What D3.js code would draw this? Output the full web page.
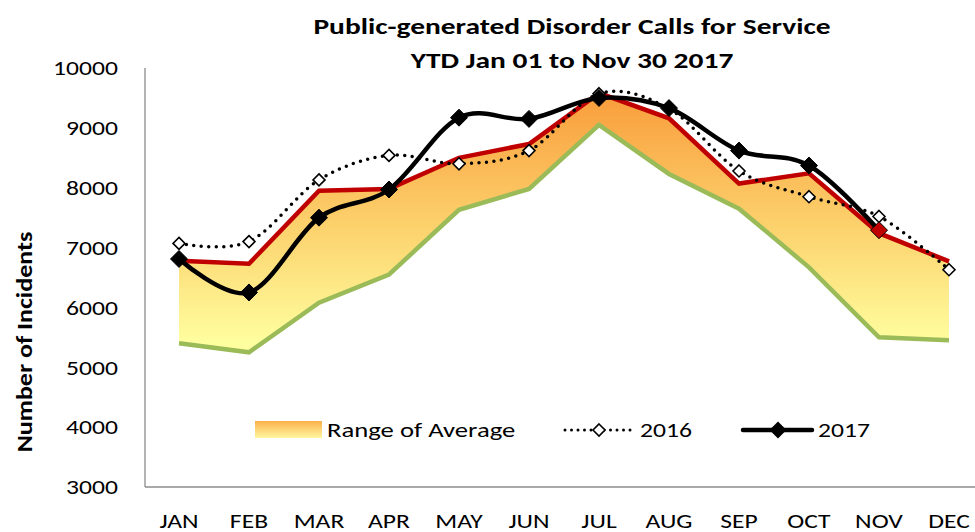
<!DOCTYPE html>
<html>
<head>
<meta charset="utf-8">
<script src="https://cdn.jsdelivr.net/npm/d3@7"></script>
<style>
  body { margin: 0; background: #fff; }
  svg { display: block; }
  text { font-family: Carlito, "Liberation Sans Narrow", "DejaVu Sans Condensed", sans-serif; fill: #000; }
</style>
</head>
<body>
<script>
// chart data
var months = ['JAN', 'FEB', 'MAR', 'APR', 'MAY', 'JUN', 'JUL', 'AUG', 'SEP', 'OCT', 'NOV', 'DEC'];
var rangeHigh = [6780, 6730, 7950, 7980, 8500, 8730, 9580, 9160, 8070, 8240, 7240, 6770];
var rangeLow = [5400, 5250, 6080, 6550, 7630, 7980, 9050, 8230, 7650, 6670, 5500, 5450];
var calls2016 = [7070, 7100, 8130, 8540, 8400, 8620, 9570, 9320, 8280, 7850, 7520, 6630];
var calls2017 = [6810, 6250, 7500, 7970, 9170, 9150, 9500, 9330, 8620, 8370, 7290];
var yTicks = [3000, 4000, 5000, 6000, 7000, 8000, 9000, 10000];

var W = 975, H = 532;

var svg = d3.select('body').append('svg')
  .attr('width', W)
  .attr('height', H);

// the reference font runs wider than Carlito, so widen glyphs a bit
var widen = function(sel, k) {
  sel.each(function() {
    var len = this.getComputedTextLength();
    d3.select(this).attr('textLength', len * k).attr('lengthAdjust', 'spacingAndGlyphs');
  });
};

var defs = svg.append('defs');

// fill of the range band, orange at the top fading to pale yellow
var grad = defs.append('linearGradient')
  .attr('id', 'rangeGrad')
  .attr('gradientUnits', 'userSpaceOnUse')
  .attr('x1', 0).attr('x2', 0)
  .attr('y1', 90).attr('y2', 345);
grad.append('stop').attr('offset', '0%').attr('stop-color', '#f99b3a');
grad.append('stop').attr('offset', '55%').attr('stop-color', '#fcd36e');
grad.append('stop').attr('offset', '100%').attr('stop-color', '#ffffa0');

var legGrad = defs.append('linearGradient')
  .attr('id', 'legGrad')
  .attr('x1', 0).attr('x2', 0).attr('y1', 0).attr('y2', 1);
legGrad.append('stop').attr('offset', '0%').attr('stop-color', '#fbb04c');
legGrad.append('stop').attr('offset', '100%').attr('stop-color', '#fff7a0');

var x = d3.scalePoint().domain(months).range([179, 949]);
var y = d3.scaleLinear().domain([3000, 10000]).range([487, 68]);

// axes
svg.append('line')
  .attr('x1', 145).attr('x2', 145)
  .attr('y1', y(10000)).attr('y2', y(3000))
  .attr('stroke', '#8c8c8c').attr('stroke-width', 1.3);
svg.append('line')
  .attr('x1', 145).attr('x2', W)
  .attr('y1', y(3000)).attr('y2', y(3000))
  .attr('stroke', '#8c8c8c').attr('stroke-width', 1.3);

svg.selectAll('.ytick').data(yTicks).enter().append('text')
  .attr('class', 'ytick')
  .attr('x', 118)
  .attr('y', function(d) { return y(d); })
  .attr('dy', '0.35em')
  .attr('text-anchor', 'end')
  .style('font-size', '21px')
  .text(function(d) { return d; })
  .call(widen, 1.22);

svg.selectAll('.xtick').data(months).enter().append('text')
  .attr('class', 'xtick')
  .attr('x', function(d) { return x(d); })
  .attr('y', 521)
  .attr('dy', '0.35em')
  .attr('text-anchor', 'middle')
  .style('font-size', '21px')
  .text(function(d) { return d; })
  .call(widen, 1.22);

// range band
var area = d3.area()
  .x(function(d, i) { return x(months[i]); })
  .y0(function(d, i) { return y(rangeLow[i]); })
  .y1(function(d) { return y(d); });

svg.append('path')
  .datum(rangeHigh)
  .attr('d', area)
  .attr('fill', 'url(#rangeGrad)');

var straight = d3.line()
  .x(function(d, i) { return x(months[i]); })
  .y(function(d) { return y(d); });

var smooth = d3.line()
  .x(function(d, i) { return x(months[i]); })
  .y(function(d) { return y(d); })
  .curve(d3.curveCatmullRom.alpha(0));

svg.append('path')
  .datum(rangeLow)
  .attr('d', straight)
  .attr('fill', 'none')
  .attr('stroke', '#9bbb59')
  .attr('stroke-width', 4.5);

svg.append('path')
  .datum(rangeHigh)
  .attr('d', straight)
  .attr('fill', 'none')
  .attr('stroke', '#c00000')
  .attr('stroke-width', 4.5);

// 2016
svg.append('path')
  .datum(calls2016)
  .attr('d', smooth)
  .attr('fill', 'none')
  .attr('stroke', '#000')
  .attr('stroke-width', 3.5)
  .attr('stroke-linecap', 'round')
  .attr('stroke-dasharray', '0,7.5');

var diamond = function(s) {
  return 'M0,' + (-s) + 'L' + s + ',0L0,' + s + 'L' + (-s) + ',0Z';
};

svg.selectAll('.m2016').data(calls2016).enter().append('path')
  .attr('class', 'm2016')
  .attr('d', diamond(6))
  .attr('transform', function(d, i) { return 'translate(' + x(months[i]) + ',' + y(d) + ')'; })
  .attr('fill', '#fff')
  .attr('stroke', '#000')
  .attr('stroke-width', 1.6);

// 2017
svg.append('path')
  .datum(calls2017)
  .attr('d', smooth)
  .attr('fill', 'none')
  .attr('stroke', '#000')
  .attr('stroke-width', 4.5);

svg.selectAll('.m2017').data(calls2017).enter().append('path')
  .attr('class', 'm2017')
  .attr('d', diamond(8.5))
  .attr('transform', function(d, i) { return 'translate(' + x(months[i]) + ',' + y(d) + ')'; })
  .attr('fill', function(d, i) { return i == 10 ? '#c00000' : '#000'; })
  .attr('stroke', '#000')
  .attr('stroke-width', 1);

// titles
svg.append('text')
  .attr('x', 572).attr('y', 26)
  .attr('dy', '0.35em')
  .attr('text-anchor', 'middle')
  .style('font-size', '23px').style('font-weight', 'bold')
  .text('Public-generated Disorder Calls for Service')
  .call(widen, 1.28);
svg.append('text')
  .attr('x', 572).attr('y', 60)
  .attr('dy', '0.35em')
  .attr('text-anchor', 'middle')
  .style('font-size', '23px').style('font-weight', 'bold')
  .text('YTD Jan 01 to Nov 30 2017')
  .call(widen, 1.28);

svg.append('text')
  .attr('transform', 'translate(24,342) rotate(-90)')
  .attr('dy', '0.35em')
  .attr('text-anchor', 'middle')
  .style('font-size', '23px').style('font-weight', 'bold')
  .text('Number of Incidents')
  .call(widen, 1.13);

// legend
var leg = svg.append('g');
leg.append('rect')
  .attr('x', 255).attr('y', 421)
  .attr('width', 67).attr('height', 17)
  .attr('fill', 'url(#legGrad)');
leg.append('text')
  .attr('x', 327).attr('y', 430)
  .attr('dy', '0.35em')
  .style('font-size', '21px')
  .text('Range of Average')
  .call(widen, 1.27);

leg.append('line')
  .attr('x1', 565).attr('x2', 634)
  .attr('y1', 430).attr('y2', 430)
  .attr('stroke', '#000').attr('stroke-width', 3)
  .attr('stroke-linecap', 'round')
  .attr('stroke-dasharray', '0,6.5');
leg.append('path')
  .attr('d', diamond(6))
  .attr('transform', 'translate(599,430)')
  .attr('fill', '#fff').attr('stroke', '#000').attr('stroke-width', 1.6);
leg.append('text')
  .attr('x', 640).attr('y', 430)
  .attr('dy', '0.35em')
  .style('font-size', '21px')
  .text('2016')
  .call(widen, 1.22);

leg.append('line')
  .attr('x1', 743).attr('x2', 812)
  .attr('y1', 430).attr('y2', 430)
  .attr('stroke', '#000').attr('stroke-width', 4.5)
  .attr('stroke-linecap', 'round');
leg.append('path')
  .attr('d', diamond(8.5))
  .attr('transform', 'translate(778,430)')
  .attr('fill', '#000');
leg.append('text')
  .attr('x', 818).attr('y', 430)
  .attr('dy', '0.35em')
  .style('font-size', '21px')
  .text('2017')
  .call(widen, 1.22);
</script>
</body>
</html>
